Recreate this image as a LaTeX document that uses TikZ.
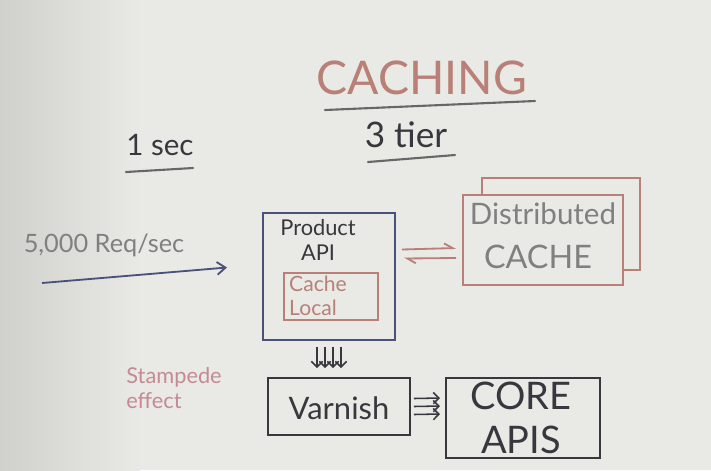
\documentclass[tikz,border=0pt]{standalone}
\usepackage{fontspec}
\setmainfont{Lato}
\usepackage{tikz}
\usetikzlibrary{positioning, arrows.meta, fit, calc}

\definecolor{board}{RGB}{233,233,229}
\definecolor{boardshade}{RGB}{208,208,204}
\definecolor{darkink}{RGB}{55,55,62}
\definecolor{blueink}{RGB}{72,82,122}
\definecolor{redink}{RGB}{184,128,118}
\definecolor{greyink}{RGB}{128,128,128}
\definecolor{pinkink}{RGB}{198,138,148}

\tikzset{
    box/.style={draw=darkink, line width=1.4pt, inner sep=0pt},
    label/.style={inner sep=1pt, align=center, text=darkink},
    uline/.style={greyink!80!black, line width=1.5pt, line cap=round},
    flow/.style={darkink, line width=1.1pt, -{Straight Barb[length=4pt]}},
}
\newcommand{\fs}[1]{\fontsize{#1}{1.15\dimexpr#1pt\relax}\selectfont}

\begin{document}
\begin{tikzpicture}[x=0.025cm, y=-0.025cm]
    \useasboundingbox (0,0) rectangle (711,470);
    \fill[board] (0,0) rectangle (711,470);
    \shade[left color=boardshade, right color=board] (0,0) rectangle (140,470);

    % headings
    \node[label, text=redink, font=\fs{33}] (title) at (422,78) {CACHING};
    \draw[uline] (325,110) -- (535,101);
    \node[label, font=\fs{21}] (onesec) at (160,145) {1 sec};
    \draw[uline] (126,172) -- (193,168);
    \node[label, font=\fs{25}] (tier) at (406,135) {3 tier};
    \draw[uline] (368,162) -- (455,155);

    % boxes
    \node[box, draw=blueink, fit={(263,213) (395,340)}] (api) {};
    \node[label, font=\fs{15.5}] (apitxt) at (318,240) {Product\\API};
    \node[box, draw=redink, line width=1.1pt, fit={(284,273) (378,320)}] (local) {};
    \node[label, text=redink, font=\fs{15}, align=left] (localtxt) at (318,296) {Cache\\Local};

    \node[box, draw=redink, fit={(482,178) (640,270)}] (dback) {};
    \node[box, draw=redink, fill=board, fit={(463,195) (623,285)}] (dcache) {};
    \node[label, text=greyink, font=\fs{21}] (dtxt) at (543,214) {Distributed};
    \node[label, text=greyink, font=\fs{23}] (ctxt) at (538,257) {CACHE};

    \node[box, fit={(268,378) (410,435)}] (varnish) {};
    \node[label, font=\fs{22}] (vtxt) at (339,408) {Varnish};
    \node[box, fit={(446,378) (600,458)}] (core) {};
    \node[label, font=\fs{27}] (coretxt) at (521,418) {CORE\\APIS};

    % side notes
    \node[label, text=greyink, font=\fs{18}] (rate) at (104,245) {5,000 Req/sec};
    \node[label, text=pinkink, font=\fs{15.5}, align=left] (stamp) at (174,388) {Stampede\\effect};

    % connectors
    \coordinate (src) at (42,283);
    \draw[blueink, line width=1.3pt, -{Straight Barb[length=6pt, width=9pt]}]
        (src) -- ($(api.west)+(-35,-9)$);
    \draw[redink, line width=1.3pt, -{Straight Barb[harpoon, length=6pt, width=7pt]}]
        ($(api.east)+(6,-27)$) -- ($(dcache.west)+(-6,8)$);
    \draw[redink, line width=1.3pt, -{Straight Barb[harpoon, length=6pt, width=7pt]}]
        ($(dcache.west)+(-6,18)$) -- ($(api.east)+(8,-18)$);
    \foreach \dx in {-12,-4,4,12}
        \draw[flow] ($(api.south)+(\dx,6)$) -- ($(varnish.north)+(\dx-10,-9)$);
    \foreach \dy in {-8,0,8}
        \draw[flow] ($(varnish.east)+(3,\dy)$) -- ($(core.west)+(-5,\dy-12)$);
\end{tikzpicture}
\end{document}
